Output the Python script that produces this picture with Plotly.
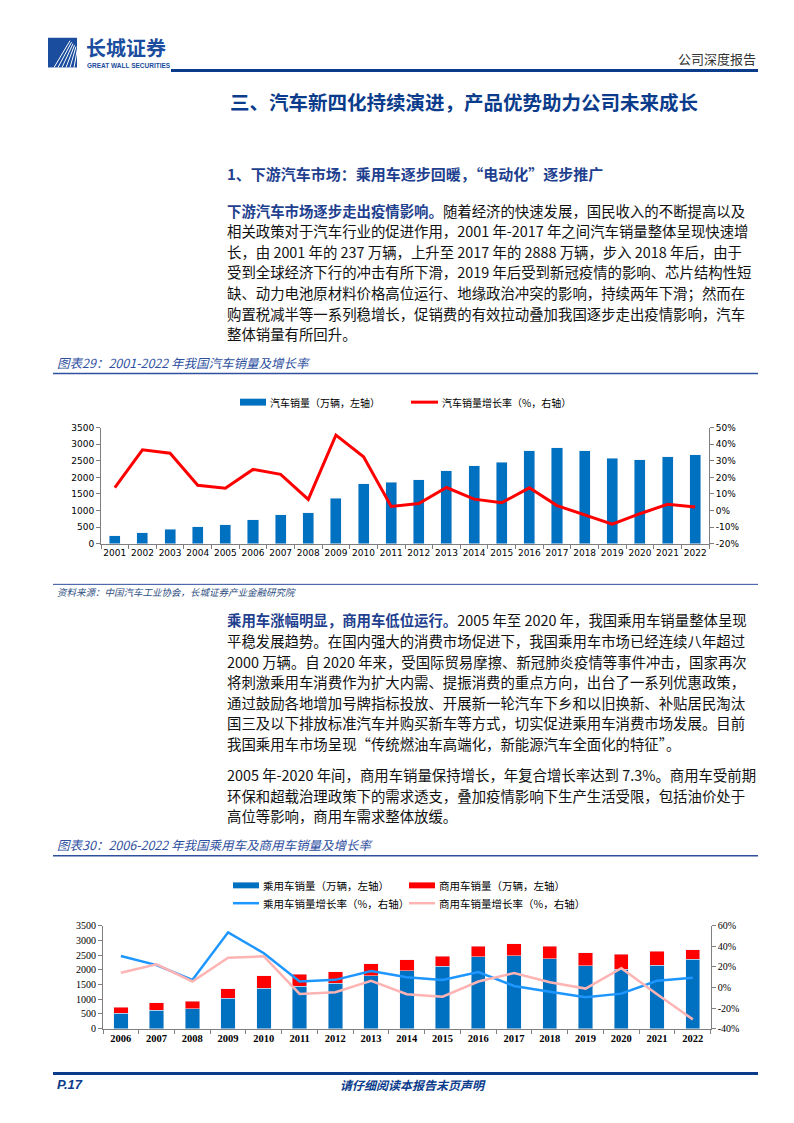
import plotly.graph_objects as go

W, H = 794, 1123


def px(x):
    return x / W


def py(y):
    return 1 - y / H


# ---------------- data ----------------
years1 = [str(y) for y in range(2001, 2023)]
sales = [237, 325, 444, 507, 576, 722, 879, 938, 1364, 1806, 1851, 1931, 2198,
         2349, 2460, 2803, 2888, 2808, 2577, 2531, 2627, 2686]
growth = [13.8, 36.6, 34.6, 15.2, 13.5, 24.8, 21.8, 6.7, 45.5, 32.4, 2.5, 4.3,
          13.9, 6.9, 4.7, 13.7, 3.0, -2.8, -8.2, -1.9, 3.8, 2.1]

years2 = [str(y) for y in range(2006, 2023)]
passenger = [517.6, 629.8, 675.6, 1033.1, 1375.8, 1447.2, 1549.5, 1792.9, 1970.1,
             2114.6, 2437.7, 2471.8, 2371.0, 2144.4, 2017.8, 2148.2, 2356.3]
commercial = [204.7, 249.0, 262.6, 331.4, 430.4, 403.3, 381.1, 405.2, 379.1,
              345.1, 365.1, 416.1, 437.1, 432.4, 513.3, 479.3, 330.0]
p_growth = [30.5, 21.7, 7.3, 53.5, 33.2, 5.8, 7.4, 15.9, 9.9, 7.3, 14.9, 1.4,
            -4.1, -9.6, -6.0, 6.5, 9.5]
c_growth = [14.3, 22.5, 5.8, 28.8, 30.2, -6.3, -4.7, 6.4, -6.5, -9.0, 5.8, 14.0,
            5.1, -1.1, 18.7, -6.6, -31.0]

left_ticks = [0, 500, 1000, 1500, 2000, 2500, 3000, 3500]
right1_ticks = [-20, -10, 0, 10, 20, 30, 40, 50]
right2_ticks = [-40, -20, 0, 20, 40, 60]

BLUE_BAR = "#0070C0"
RED = "#FF0000"
LBLUE = "#1E96FF"
PINK = "#FFB4B4"
NAVY = "#0B3C8C"
TXTBLUE = "#1F3F8F"
CJK = "Noto Sans CJK SC"

fig = go.Figure()

# chart 1
fig.add_trace(go.Bar(x=years1, y=sales, marker_color=BLUE_BAR, width=0.4,
                     xaxis="x", yaxis="y", name="汽车销量（万辆，左轴）"))
fig.add_trace(go.Scatter(x=years1, y=growth, mode="lines",
                         line=dict(color=RED, width=3), xaxis="x", yaxis="y2",
                         name="汽车销量增长率（%，右轴）"))

# chart 2
fig.add_trace(go.Bar(x=years2, y=passenger, marker_color=BLUE_BAR, width=0.4,
                     xaxis="x3", yaxis="y3", name="乘用车销量（万辆，左轴）"))
fig.add_trace(go.Bar(x=years2, y=commercial, marker_color=RED, width=0.4,
                     xaxis="x3", yaxis="y3", name="商用车销量（万辆，左轴）"))
fig.add_trace(go.Scatter(x=years2, y=p_growth, mode="lines",
                         line=dict(color=LBLUE, width=2.5), xaxis="x3", yaxis="y4",
                         name="乘用车销量增长率（%，右轴）"))
fig.add_trace(go.Scatter(x=years2, y=c_growth, mode="lines",
                         line=dict(color=PINK, width=2.5), xaxis="x3", yaxis="y4",
                         name="商用车销量增长率（%，右轴）"))

axis_common = dict(showgrid=False, zeroline=False, showline=True, linecolor="#7f7f7f",
                   linewidth=1, ticks="outside", ticklen=4, tickcolor="#7f7f7f")

f1 = dict(family="DejaVu Sans", size=9, color="#000")
f2x = dict(family="Liberation Serif", size=10.5, color="#000")
f2y = dict(family="Liberation Serif", size=10, color="#000")


def pct(v):
    return f"{v}%"


fig.update_layout(
    width=W, height=H, margin=dict(l=0, r=0, t=0, b=0),
    paper_bgcolor="white", plot_bgcolor="rgba(0,0,0,0)",
    showlegend=False, barmode="stack",
    xaxis=dict(domain=[px(93), px(701)], anchor="y", type="category",
               tickson="boundaries", tickangle=0, tickfont=f1, **axis_common),
    yaxis=dict(domain=[py(536), py(418.7)], anchor="x", range=[0, 3500],
               tickvals=left_ticks, tickfont=f1, **axis_common),
    yaxis2=dict(overlaying="y", side="right", anchor="x", range=[-20, 50],
                tickvals=right1_ticks, ticktext=[pct(v) for v in right1_ticks],
                tickfont=f1, **axis_common),
    xaxis3=dict(domain=[px(95), px(702.7)], anchor="y3", type="category",
                tickson="boundaries", tickangle=0, tickfont=dict(f2x, weight="bold"),
                **axis_common),
    yaxis3=dict(domain=[py(1025.7), py(921.7)], anchor="x3", range=[0, 3500],
                tickvals=left_ticks, tickfont=f2y, **axis_common),
    yaxis4=dict(overlaying="y3", side="right", anchor="x3", range=[-40, 60],
                tickvals=right2_ticks, ticktext=[pct(v) for v in right2_ticks],
                tickfont=f2y, **axis_common),
)

shapes = []
ann = []


def hline(x0, x1, y, color, width):
    shapes.append(dict(type="line", xref="paper", yref="paper", x0=px(x0), x1=px(x1),
                       y0=py(y), y1=py(y), line=dict(color=color, width=width)))


def rect(x0, x1, y0, y1, color):
    shapes.append(dict(type="rect", xref="paper", yref="paper", x0=px(x0), x1=px(x1),
                       y0=py(y1), y1=py(y0), line=dict(width=0), fillcolor=color))


def text(x, y, s, size, color="#000", family=CJK, xanchor="left", bold=False,
         italic=False):
    ann.append(dict(xref="paper", yref="paper", x=px(x), y=py(y), text=s,
                    showarrow=False, xanchor=xanchor, yanchor="middle",
                    font=dict(family=family, size=size, color=color,
                              weight="bold" if bold else "normal",
                              style="italic" if italic else "normal")))


# ---------- header ----------
rect(40, 69, 25, 55, "#1A4D9E")
for i in range(6):
    shapes.append(dict(type="line", xref="paper", yref="paper",
                       x0=px(46 + i * 4), y0=py(55), x1=px(62 + i * 1.5), y1=py(28 + i * 1.5),
                       line=dict(color="white", width=1)))
text(76, 35, "长城证券", 20, "#1A4D9E", bold=True)
text(77, 53, "GREAT WALL SECURITIES", 6.5, "#1A4D9E", family="Liberation Sans", bold=True)
text(750, 46, "公司深度报告", 13, "#333333", xanchor="right")
hline(163, 750, 58, NAVY, 3)

text(220, 89, "三、汽车新四化持续演进，产品优势助力公司未来成长", 19.5, NAVY, bold=True)

text(217, 162, "1、下游汽车市场：乘用车逐步回暖，“电动化”逐步推广", 15, TXTBLUE, bold=True)

B = "<span style='color:%s'><b>%s</b></span>"
p1 = [
    (B % (TXTBLUE, "下游汽车市场逐步走出疫情影响。")) + "随着经济的快速发展，国民收入的不断提高以及",
    "相关政策对于汽车行业的促进作用，2001 年-2017 年之间汽车销量整体呈现快速增",
    "长，由 2001 年的 237 万辆，上升至 2017 年的 2888 万辆，步入 2018 年后，由于",
    "受到全球经济下行的冲击有所下滑，2019 年后受到新冠疫情的影响、芯片结构性短",
    "缺、动力电池原材料价格高位运行、地缘政治冲突的影响，持续两年下滑；然而在",
    "购置税减半等一系列稳增长，促销费的有效拉动叠加我国逐步走出疫情影响，汽车",
    "整体销量有所回升。",
]
for i, s in enumerate(p1):
    text(217, 199 + i * 20.8, s, 14.4, "#111")

# chart 1 caption
text(47, 353, "图表29：2001-2022 年我国汽车销量及增长率", 12.5, "#2F4F9F", italic=True)
hline(45, 750, 364, "#2F4F9F", 1.5)

# chart 1 legend
rect(232, 258, 389.5, 396.5, BLUE_BAR)
text(260, 393, "汽车销量（万辆，左轴）", 10, "#000")
hline(403, 430, 393, RED, 3)
text(432, 393, "汽车销量增长率（%，右轴）", 10, "#000")

hline(45, 750, 577, "#2F4F9F", 1)
text(47, 585, "资料来源：中国汽车工业协会，长城证券产业金融研究院", 9.5, "#2F4F7F", italic=True)

p2 = [
    (B % (TXTBLUE, "乘用车涨幅明显，商用车低位运行。")) + "2005 年至 2020 年，我国乘用车销量整体呈现",
    "平稳发展趋势。在国内强大的消费市场促进下，我国乘用车市场已经连续八年超过",
    "2000 万辆。自 2020 年来，受国际贸易摩擦、新冠肺炎疫情等事件冲击，国家再次",
    "将刺激乘用车消费作为扩大内需、提振消费的重点方向，出台了一系列优惠政策，",
    "通过鼓励各地增加号牌指标投放、开展新一轮汽车下乡和以旧换新、补贴居民淘汰",
    "国三及以下排放标准汽车并购买新车等方式，切实促进乘用车消费市场发展。目前",
    "我国乘用车市场呈现“传统燃油车高端化，新能源汽车全面化的特征”。",
]
for i, s in enumerate(p2):
    text(217, 613 + i * 20.8, s, 14.4, "#111")

p3 = [
    "2005 年-2020 年间，商用车销量保持增长，年复合增长率达到 7.3%。商用车受前期",
    "环保和超载治理政策下的需求透支，叠加疫情影响下生产生活受限，包括油价处于",
    "高位等影响，商用车需求整体放缓。",
]
for i, s in enumerate(p3):
    text(217, 769 + i * 20.8, s, 14.4, "#111")

# chart 2 caption
text(47, 840, "图表30：2006-2022 年我国乘用车及商用车销量及增长率", 12.5, "#2F4F9F", italic=True)
hline(45, 750, 851, "#2F4F9F", 1.5)

# chart 2 legend
rect(225, 251, 878, 884, BLUE_BAR)
text(253, 881, "乘用车销量（万辆，左轴）", 10.5, "#000")
rect(401, 427, 878, 884, RED)
text(429, 881, "商用车销量（万辆，左轴）", 10.5, "#000")
hline(225, 251, 899, LBLUE, 2.5)
text(253, 899, "乘用车销量增长率（%，右轴）", 10.5, "#000")
hline(401, 427, 899, PINK, 2.5)
text(429, 899, "商用车销量增长率（%，右轴）", 10.5, "#000")

# footer
hline(45, 750, 1071, NAVY, 3)
text(47, 1082, "P.17", 13, NAVY, family="Liberation Sans", bold=True, italic=True)
text(405, 1082, "请仔细阅读本报告末页声明", 12, NAVY, xanchor="center", bold=True, italic=True)

fig.update_layout(shapes=shapes, annotations=ann)
fig.write_html("out.html")
